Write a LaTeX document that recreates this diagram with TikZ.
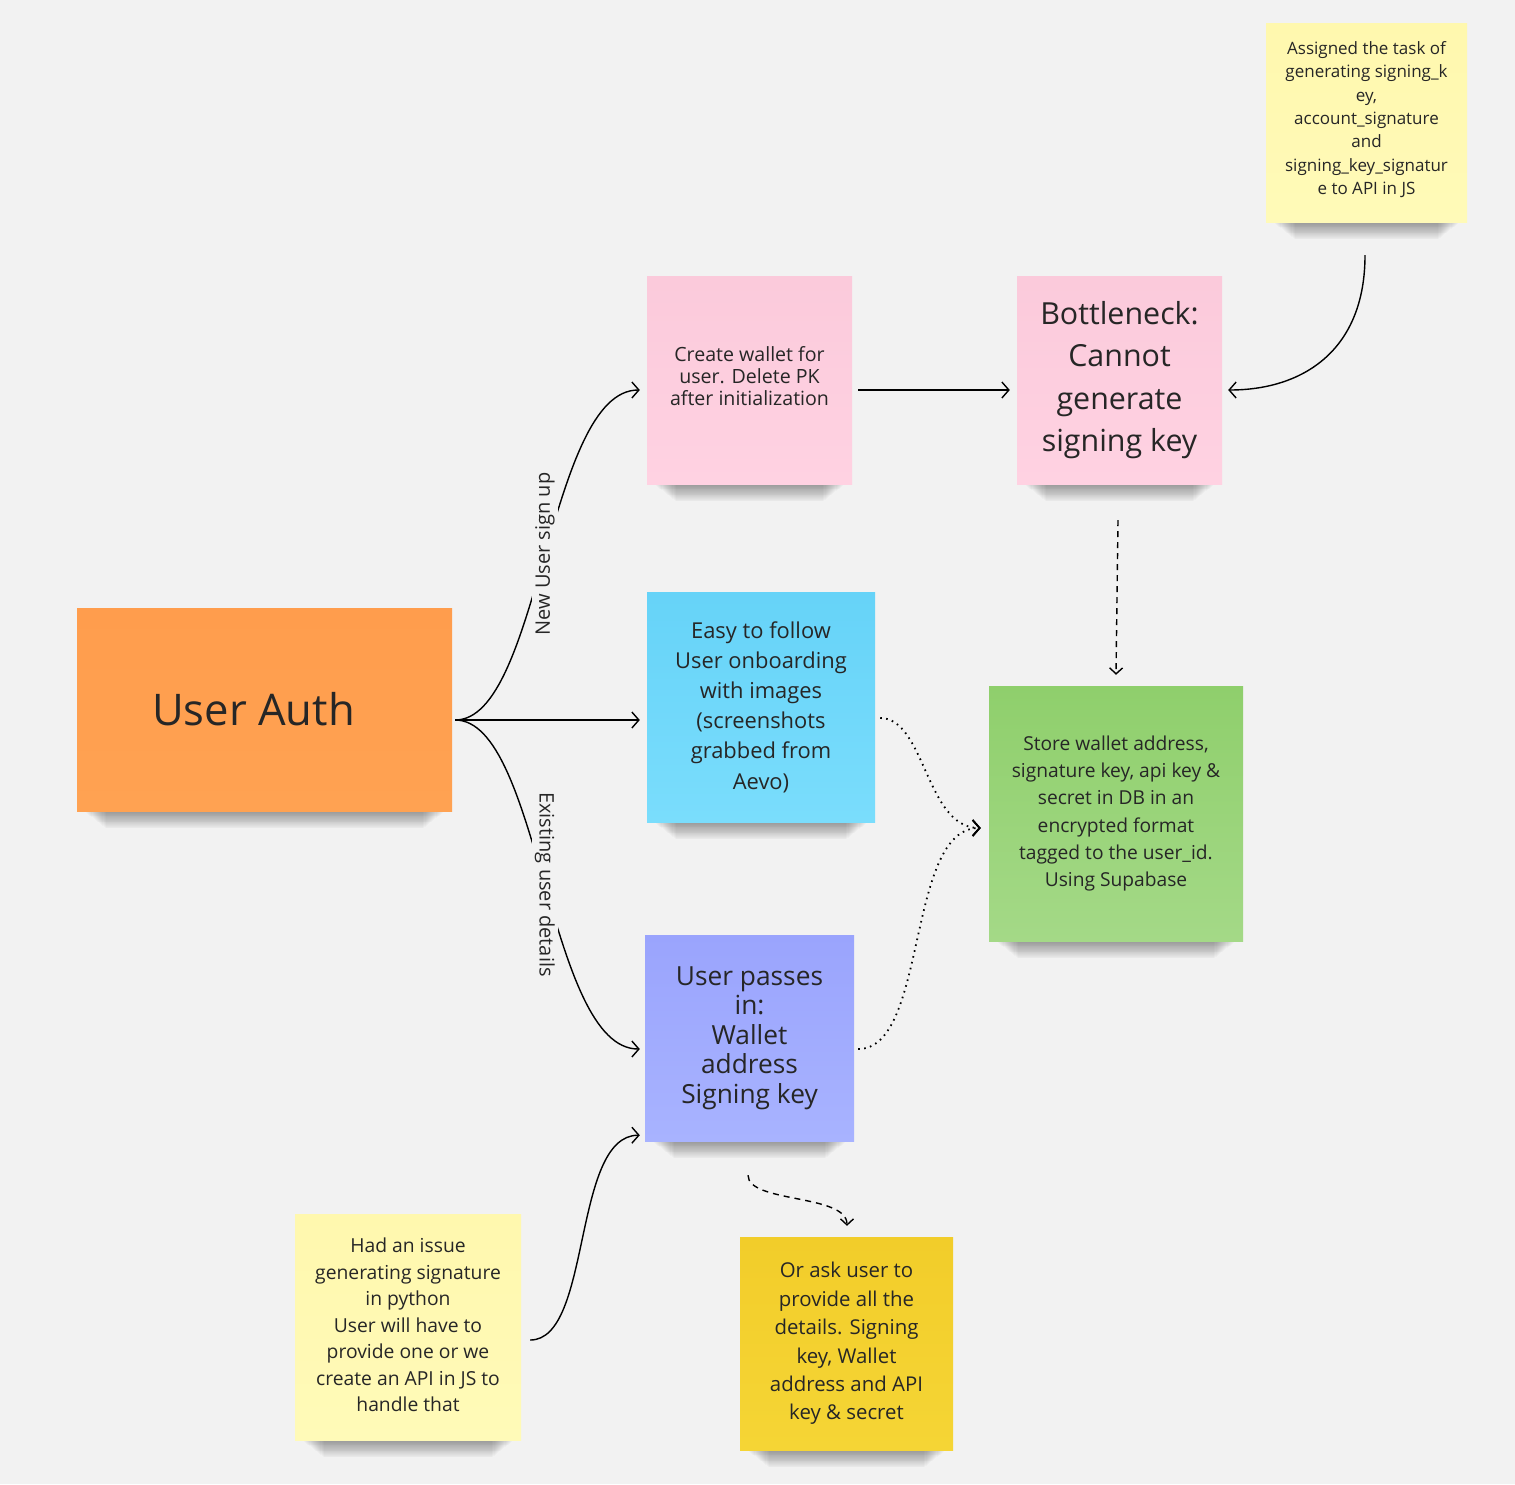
\documentclass[tikz,border=0pt]{standalone}
\usepackage{fontspec}
\setmainfont{Open Sans}
\usetikzlibrary{arrows.meta}
\definecolor{bg}{HTML}{F2F2F2}
\definecolor{txt}{HTML}{262626}
\definecolor{orangeA}{HTML}{FF9D4D}
\definecolor{orangeB}{HTML}{FFA252}
\definecolor{pinkA}{HTML}{FBCADB}
\definecolor{pinkB}{HTML}{FFD2E2}
\definecolor{ylwA}{HTML}{FFF8AE}
\definecolor{ylwB}{HTML}{FFFAB8}
\definecolor{blueA}{HTML}{66D3F8}
\definecolor{blueB}{HTML}{7ADDFC}
\definecolor{greenA}{HTML}{8FCF6C}
\definecolor{greenB}{HTML}{A4D987}
\definecolor{violA}{HTML}{9AA4FD}
\definecolor{violB}{HTML}{A8B3FF}
\definecolor{goldA}{HTML}{F2CD2A}
\definecolor{goldB}{HTML}{F5D535}
\pgfdeclarelayer{bglayer}
\pgfdeclarelayer{shadowlayer}
\pgfsetlayers{bglayer,shadowlayer,main}
\newcommand\notesh[1]{%
  \begin{pgfonlayer}{shadowlayer}
    \foreach \i in {0,...,19}{%
      \fill[black, opacity=0.019] ([shift={(8+1.1*\i,-6)}]#1.south west) rectangle ([shift={(-8-1.1*\i,1+0.85*\i)}]#1.south east);
    }
  \end{pgfonlayer}}
\tikzset{
  note/.style={rectangle, inner sep=0pt, align=center, text=txt},
  notetext/.style={align=center, text=txt, inner sep=0pt},
  arr/.style={-{Straight Barb[length=7pt,width=16pt]}, line width=1.4pt, black},
  sarr/.style={-{Straight Barb[length=6pt,width=13pt]}, line width=1.4pt, black},
  dotline/.style={line width=1.8pt, dash pattern=on 1.6pt off 4.4pt},
  dashline/.style={dash pattern=on 6pt off 5pt},
  lbl/.style={fill=bg, inner sep=3pt, text=txt, font=\fontsize{20}{24}\selectfont}
}
\begin{document}
\begin{tikzpicture}[x=1pt,y=-1pt]
\begin{pgfonlayer}{bglayer}
\fill[bg] (0,0) rectangle (1515,1484);
\end{pgfonlayer}
\useasboundingbox (0,0) rectangle (1515,1484);

% notes
\node[note, top color=orangeA, bottom color=orangeB, minimum width=375pt, minimum height=203pt,
  font=\fontsize{43.6}{52}\selectfont] (ua) at (264.5,709.5) {User Auth\hspace*{22pt}};
\node[note, top color=pinkA, bottom color=pinkB, minimum width=205pt, minimum height=208pt,
  label={[notetext, yshift=4pt, font=\fontsize{19.6}{22}\selectfont]center:{Create wallet for\\user. Delete PK\\after initialization}}] (cw) at (749.5,380) {};
\node[note, top color=pinkA, bottom color=pinkB, minimum width=205pt, minimum height=208pt,
  font=\fontsize{30.4}{42.5}\selectfont] (bn) at (1119.5,380) {Bottleneck:\\Cannot\\generate\\signing key};
\node[note, top color=ylwA, bottom color=ylwB, minimum width=201pt, minimum height=199pt,
  label={[notetext, yshift=3pt, font=\fontsize{17}{23.3}\selectfont]center:{Assigned the task of\\generating signing\_k\\ey,\\account\_signature\\and\\signing\_key\_signatur\\e to API in JS}}] (as) at (1366.5,122.5) {};
\node[note, top color=blueA, bottom color=blueB, minimum width=228pt, minimum height=230pt,
  font=\fontsize{21.9}{30.2}\selectfont] (ez) at (761,707) {Easy to follow\\User onboarding\\with images\\(screenshots\\grabbed from\\Aevo)};
\node[note, top color=greenA, bottom color=greenB, minimum width=254pt, minimum height=255pt,
  font=\fontsize{19.2}{27.2}\selectfont] (st) at (1116,813.5) {Store wallet address,\\signature key, api key \&\\secret in DB in an\\encrypted format\\tagged to the user\_id.\\Using Supabase};
\node[note, top color=violA, bottom color=violB, minimum width=209pt, minimum height=206pt,
  font=\fontsize{26.3}{29.5}\selectfont] (up) at (749.5,1038) {User passes\\in:\\Wallet\\address\\Signing key};
\node[note, top color=ylwA, bottom color=ylwB, minimum width=226pt, minimum height=226pt,
  label={[notetext, yshift=2pt, font=\fontsize{19.3}{26.5}\selectfont]center:{Had an issue\\generating signature\\in python\\User will have to\\provide one or we\\create an API in JS to\\handle that}}] (hi) at (408,1327) {};
\node[note, top color=goldA, bottom color=goldB, minimum width=213pt, minimum height=213pt,
  font=\fontsize{20.4}{28.4}\selectfont] (oa) at (846.5,1343.5) {Or ask user to\\provide all the\\details. Signing\\key, Wallet\\address and API\\key \& secret};

\notesh{ua}\notesh{cw}\notesh{bn}\notesh{as}\notesh{ez}\notesh{st}\notesh{up}\notesh{hi}\notesh{oa}

% connectors from User Auth
\draw[arr] ([shift={(3,10.5)}]ua.east) .. controls +(85,0) and +(-92,0) .. ([shift={(-7,10)}]cw.west)
  node[lbl, pos=0.5, rotate=90, xshift=1pt] {New User sign up};
\draw[arr] ([shift={(3,10.5)}]ua.east) -- ([shift={(-7,13)}]ez.west);
\draw[arr] ([shift={(3,10.5)}]ua.east) .. controls +(85,0) and +(-92,0) .. ([shift={(-5,11)}]up.west)
  node[lbl, pos=0.5, rotate=-90] {Existing user details};

% create wallet -> bottleneck
\draw[arr] ([shift={(6,10)}]cw.east) -- ([shift={(-7,10)}]bn.west);
% assigned -> bottleneck
\draw[arr] ([shift={(-1.5,33)}]as.south) .. controls +(0,95) and +(75,0) .. ([shift={(6,10)}]bn.east);
% bottleneck -> store (dashed)
\draw[sarr, dashline] ([shift={(-1.5,36)}]bn.south) -- ([shift={(0,-11)}]st.north);
% easy -> store (dotted)
\draw[arr, dotline] ([shift={(5,11)}]ez.east) .. controls +(45,0) and +(-55,0) .. ([shift={(-8,14.5)}]st.west);
% user passes -> store (dotted)
\draw[arr, dotline] ([shift={(4,11)}]up.east) .. controls +(70,0) and +(-75,0) .. ([shift={(-8,14.5)}]st.west);
% user passes -> or ask (dashed)
\draw[sarr, dashline] ([shift={(-1.5,34)}]up.south) .. controls +(0,28) and +(0,-32) .. ([shift={(0.5,-11)}]oa.north);
% had an issue -> user passes
\draw[arr] ([shift={(9,13)}]hi.east) .. controls +(62,0) and +(-68,0) .. ([shift={(-5,-6)}]up.south west);
\end{tikzpicture}
\end{document}
